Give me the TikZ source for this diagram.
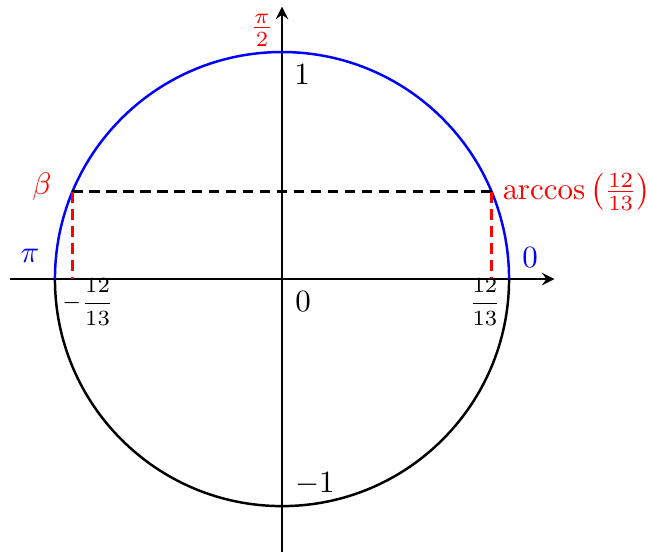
\documentclass[tikz,border=0pt]{standalone}
\usepackage{amsmath}
\usepackage{amssymb}
\usepackage{xcolor}
\usetikzlibrary{calc}

\begin{document}
\begin{tikzpicture}[scale=2.58, >=stealth]
\useasboundingbox (-1.242,-1.198) rectangle (1.612,1.229);
\tikzset{cline/.style={thick}, dline/.style={thick, dash pattern=on 3.5pt off 2pt}}

% Axes
\coordinate (O) at (0,0);
\coordinate (xl) at (-1.2,0);
\coordinate (xr) at (1.2,0);
\coordinate (yb) at (0,-1.2);
\coordinate (yt) at (0,1.2);
\draw[thick, ->] (xl) -- (xr);
\draw[thick, ->] (yb) -- (yt);

% Unit circle
\draw[cline, blue] (1,0) arc (0:180:1);
\draw[cline, black] (-1,0) arc (180:360:1);

% Points at height 5/13
\coordinate (A) at ({12/13},{5/13});
\coordinate (B) at ({-12/13},{5/13});
\draw[dline, black] (B) -- (A);
\draw[dline, red] (A) -- (A |- O);
\draw[dline, red] (B) -- (B |- O);

% Labels
\node[red, right] (lA) at (A) {$\arccos\left(\frac{12}{13}\right)$};
\node[red] (lB) at (-1.057,0.405) {$\beta$};
\node (xA) at (0.894,-0.101) {\scriptsize$\displaystyle\frac{12}{13}$};
\node (xB) at (-0.855,-0.101) {\scriptsize$\displaystyle-\frac{12}{13}$};
\node[blue] (lpi) at (-1.110,0.101) {$\pi$};
\node[blue] (lzero) at (1.093,0.097) {$0$};
\node[red] (lhalf) at (-0.088,1.097) {$\frac{\pi}{2}$};
\node (lone) at (0.088,0.899) {$1$};
\node (lmone) at (0.145,-0.903) {$-1$};
\node (lO) at (0.093,-0.097) {$0$};

\end{tikzpicture}
\end{document}
